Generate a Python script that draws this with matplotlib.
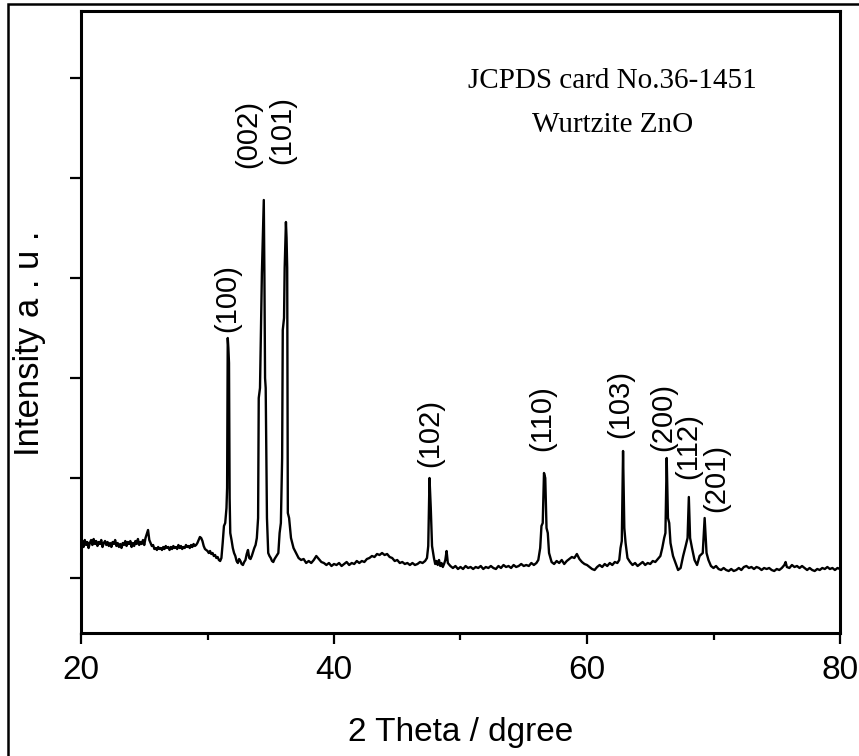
import matplotlib
matplotlib.use("Agg")
import matplotlib.pyplot as plt
from matplotlib.patches import Rectangle

# XRD pattern: (2 theta in degrees, intensity in arbitrary units)
pattern = [
    (20.0, .30), (20.1, .37), (20.2, .31), (20.3, .38), (20.4, .33), (20.5, .36), (20.6, .30), (20.7, .35),
    (20.8, .38), (20.9, .33), (21.0, .39), (21.1, .34), (21.2, .37), (21.3, .32), (21.4, .36), (21.5, .34),
    (21.6, .38), (21.7, .31), (21.8, .35), (21.9, .37), (22.0, .33), (22.1, .36), (22.2, .32), (22.3, .35),
    (22.4, .31), (22.5, .36), (22.6, .34), (22.7, .38), (22.8, .32), (22.9, .35), (23.0, .31), (23.1, .34),
    (23.2, .30), (23.3, .35), (23.4, .33), (23.5, .37), (23.6, .32), (23.7, .36), (23.8, .34), (23.9, .37),
    (24.0, .31), (24.1, .35), (24.2, .32), (24.3, .37), (24.4, .34), (24.5, .39), (24.6, .33), (24.7, .36),
    (24.8, .34), (24.9, .38), (25.0, .33), (25.1, .40), (25.2, .44), (25.3, .48), (25.4, .38), (25.5, .35),
    (25.6, .32), (25.7, .33), (25.8, .29), (25.9, .30), (26.0, .28), (26.1, .31), (26.2, .29), (26.3, .30),
    (26.4, .28), (26.5, .31), (26.6, .29), (26.7, .32), (26.8, .30), (26.9, .31), (27.0, .28), (27.1, .31),
    (27.2, .29), (27.3, .32), (27.4, .30), (27.5, .31), (27.6, .29), (27.7, .33), (27.8, .30), (27.9, .32),
    (28.0, .29), (28.1, .31), (28.2, .30), (28.3, .33), (28.4, .31), (28.5, .32), (28.6, .30), (28.7, .33),
    (28.8, .31), (28.9, .34), (29.0, .32), (29.1, .33), (29.2, .35), (29.3, .38), (29.4, .41), (29.5, .40),
    (29.6, .37), (29.7, .32), (29.8, .29), (29.9, .28), (30.0, .27), (30.1, .25), (30.2, .27), (30.3, .24),
    (30.4, .25), (30.5, .22), (30.6, .23), (30.7, .20), (30.8, .21), (30.9, .18), (31.0, .17), (31.1, .20),
    (31.2, .35), (31.3, .52), (31.4, .55), (31.5, .70), (31.55, .90), (31.6, 2.40), (31.65, 2.30), (31.7, 2.15),
    (31.75, .80), (31.8, .45), (31.9, .38), (32.0, .30), (32.1, .25), (32.2, .22), (32.3, .17), (32.4, .15),
    (32.5, .19), (32.6, .17), (32.7, .14), (32.8, .13), (32.9, .16), (33.0, .18), (33.1, .24), (33.2, .28),
    (33.3, .20), (33.4, .19), (33.5, .22), (33.6, .26), (33.7, .30), (33.8, .33), (33.9, .40), (34.0, .60),
    (34.05, 1.80), (34.15, 1.90), (34.3, 3.05), (34.45, 3.78), (34.5, 3.00), (34.55, 2.00), (34.6, 1.90), (34.7, .60),
    (34.8, .25), (34.9, .22), (35.0, .20), (35.1, .17), (35.2, .16), (35.3, .19), (35.4, .21), (35.5, .23),
    (35.6, .25), (35.7, .45), (35.8, .55), (35.9, 1.20), (35.95, 2.48), (36.05, 2.60), (36.1, 3.10), (36.2, 3.56),
    (36.25, 3.40), (36.3, 3.10), (36.35, .65), (36.45, .60), (36.6, .40), (36.8, .30), (37.0, .25), (37.2, .20),
    (37.4, .18), (37.6, .19), (37.8, .15), (38.0, .17), (38.2, .15), (38.4, .18), (38.6, .22), (38.8, .19),
    (39.0, .16), (39.2, .15), (39.4, .13), (39.6, .15), (39.8, .12), (40.0, .14), (40.2, .13), (40.4, .15),
    (40.6, .12), (40.8, .14), (41.0, .16), (41.2, .13), (41.4, .15), (41.6, .14), (41.8, .17), (42.0, .15),
    (42.2, .17), (42.4, .16), (42.6, .19), (42.8, .20), (43.0, .22), (43.2, .21), (43.4, .24), (43.6, .23),
    (43.8, .25), (44.0, .23), (44.2, .24), (44.4, .21), (44.6, .20), (44.8, .17), (45.0, .18), (45.2, .15),
    (45.4, .16), (45.6, .14), (45.8, .15), (46.0, .13), (46.2, .15), (46.4, .13), (46.6, .14), (46.8, .16),
    (47.0, .15), (47.2, .17), (47.35, .20), (47.45, .32), (47.55, 1.00), (47.65, .70), (47.75, .32), (47.9, .20),
    (48.0, .14), (48.1, .17), (48.2, .13), (48.3, .18), (48.4, .12), (48.5, .15), (48.6, .11), (48.7, .14),
    (48.8, .18), (48.9, .27), (49.0, .15), (49.2, .12), (49.4, .10), (49.6, .12), (49.8, .09), (50.0, .11),
    (50.2, .09), (50.4, .12), (50.6, .10), (50.8, .11), (51.0, .09), (51.2, .11), (51.4, .10), (51.6, .12),
    (51.8, .09), (52.0, .11), (52.2, .10), (52.4, .12), (52.6, .10), (52.8, .09), (53.0, .12), (53.2, .10),
    (53.4, .13), (53.6, .11), (53.8, .12), (54.0, .10), (54.2, .13), (54.4, .11), (54.6, .12), (54.8, .14),
    (55.0, .12), (55.2, .13), (55.4, .12), (55.6, .15), (55.8, .13), (56.0, .15), (56.15, .18), (56.3, .30),
    (56.4, .52), (56.5, .55), (56.6, 1.05), (56.7, 1.00), (56.8, .50), (56.9, .45), (57.0, .25), (57.2, .16),
    (57.4, .14), (57.6, .17), (57.8, .15), (58.0, .18), (58.2, .14), (58.4, .17), (58.6, .19), (58.8, .21),
    (59.0, .20), (59.2, .24), (59.4, .19), (59.6, .16), (59.8, .14), (60.0, .13), (60.2, .11), (60.4, .09),
    (60.6, .08), (60.8, .11), (61.0, .13), (61.2, .11), (61.4, .14), (61.6, .12), (61.8, .15), (62.0, .13),
    (62.2, .16), (62.4, .15), (62.55, .18), (62.65, .30), (62.75, .37), (62.85, 1.27), (62.95, .50), (63.05, .35),
    (63.2, .20), (63.4, .16), (63.6, .13), (63.8, .15), (64.0, .12), (64.2, .14), (64.4, .16), (64.6, .13),
    (64.8, .15), (65.0, .14), (65.2, .17), (65.4, .16), (65.6, .19), (65.8, .22), (65.95, .30), (66.1, .40),
    (66.2, .45), (66.3, 1.20), (66.4, .60), (66.5, .55), (66.6, .35), (66.8, .22), (67.0, .15), (67.2, .08),
    (67.4, .10), (67.6, .22), (67.8, .32), (67.95, .40), (68.05, .81), (68.15, .40), (68.3, .30), (68.5, .18),
    (68.7, .13), (68.9, .22), (69.15, .25), (69.3, .60), (69.45, .25), (69.6, .18), (69.8, .12), (70.0, .10),
    (70.2, .12), (70.4, .09), (70.6, .08), (70.8, .10), (71.0, .08), (71.2, .07), (71.4, .09), (71.6, .07),
    (71.8, .08), (72.0, .10), (72.2, .08), (72.4, .11), (72.6, .12), (72.8, .10), (73.0, .11), (73.2, .09),
    (73.4, .11), (73.6, .10), (73.8, .08), (74.0, .10), (74.2, .09), (74.4, .10), (74.6, .08), (74.8, .07),
    (75.0, .09), (75.2, .08), (75.4, .10), (75.6, .13), (75.7, .16), (75.8, .11), (76.0, .10), (76.2, .13),
    (76.4, .11), (76.6, .12), (76.8, .10), (77.0, .12), (77.2, .10), (77.4, .08), (77.6, .10), (77.8, .08),
    (78.0, .07), (78.2, .09), (78.4, .08), (78.6, .10), (78.8, .09), (79.0, .11), (79.2, .09), (79.4, .10),
    (79.6, .08), (79.8, .10), (80.0, .09),
]
two_theta = [p[0] for p in pattern]
intensity = [p[1] for p in pattern]

# Miller index labels and where they sit (2 theta, intensity at label centre)
peak_labels = ["(100)", "(002)", "(101)", "(102)", "(110)", "(103)", "(200)", "(112)", "(201)"]
label_x = [31.55, 33.2, 35.9, 47.6, 56.5, 62.6, 66.0, 68.0, 70.2]
label_y = [2.80, 4.44, 4.48, 1.45, 1.60, 1.74, 1.61, 1.32, 1.00]

x_ticks = [20, 40, 60, 80]
x_minor = [30, 50, 70]
y_ticks = [0, 1, 2, 3, 4, 5]

sans = ["Liberation Sans", "DejaVu Sans"]
serif = ["Liberation Serif", "DejaVu Serif"]

fig = plt.figure(figsize=(8.59, 7.56), dpi=100)
ax = fig.add_axes([81 / 859, 123 / 756, 759 / 859, 622 / 756])

ax.plot(two_theta, intensity, color="black", linewidth=1.7)

ax.set_xlim(20, 80)
ax.set_ylim(-0.55, 5.67)
ax.set_xticks(x_ticks)
ax.set_xticks(x_minor, minor=True)
ax.set_yticks(y_ticks)
ax.set_yticklabels([])

for label in ax.get_xticklabels():
    label.set_family(sans)
    label.set_fontsize(24)

ax.tick_params(axis="both", which="major", direction="out", length=8, width=1.6, pad=8)
ax.tick_params(axis="x", which="minor", direction="out", length=5, width=1.6)
for spine in ax.spines.values():
    spine.set_linewidth(2.2)

ax.set_xlabel("2 Theta / dgree", fontsize=24, family=sans, labelpad=22)
ax.set_ylabel("Intensity a . u .", fontsize=25, family=sans)
ax.yaxis.set_label_coords(-0.046, 0.466)

# peak labels, rotated
for txt, px, py in zip(peak_labels, label_x, label_y):
    ax.text(px, py, txt, rotation=90, ha="center", va="center", fontsize=21, family=sans)

# card reference in the upper right
ax.text(0.70, 0.876, "JCPDS card No.36-1451", transform=ax.transAxes, ha="center",
        va="baseline", fontsize=21, family=serif)
ax.text(0.70, 0.805, "Wurtzite ZnO", transform=ax.transAxes, ha="center",
        va="baseline", fontsize=21, family=serif)

# outer frame of the original picture (only left and top edges are visible)
fig.patches.append(Rectangle((8 / 859, -0.5), 2.0, 0.9947 + 0.5, transform=fig.transFigure,
                             fill=False, edgecolor="black", linewidth=1.8))

fig.savefig("out.png", dpi=100)
